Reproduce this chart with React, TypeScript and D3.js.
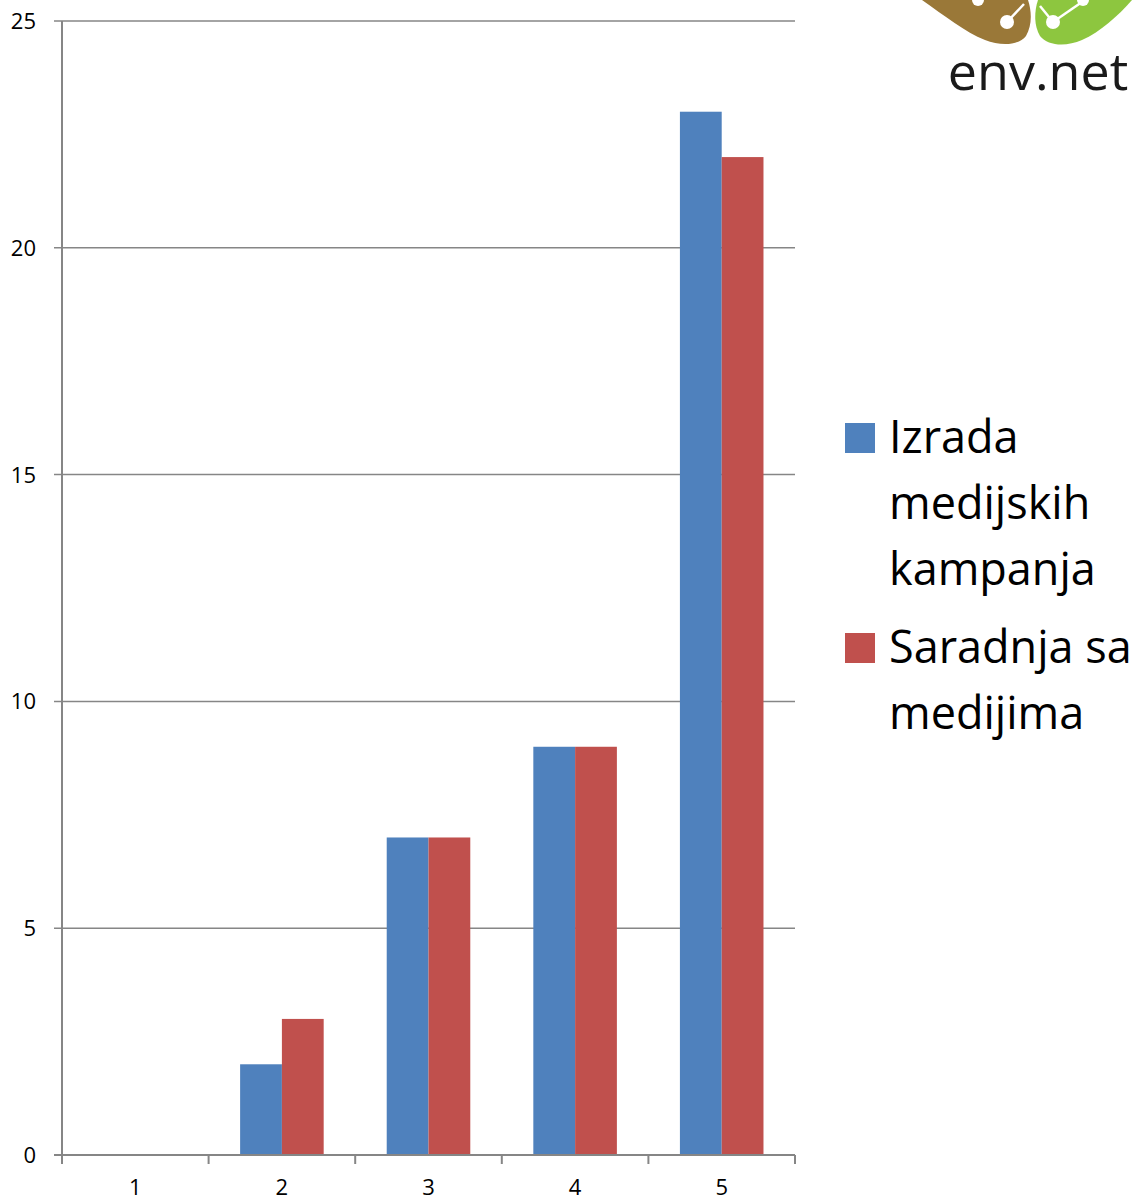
import React from 'react';
import { scaleBand, scaleLinear } from 'd3';

const categories = ['1', '2', '3', '4', '5'];
const izrada = [0, 2, 7, 9, 23];
const saradnja = [0, 3, 7, 9, 22];
const yTicks = [0, 5, 10, 15, 20, 25];
const seriesNames = ['Izrada', 'Saradnja sa'];
const legendLines = [['Izrada', 'medijskih', 'kampanja'], ['Saradnja sa', 'medijima']];
const colors = ['#4F81BD', '#C0504D'];

const left = 62;
const right = 795;
const top = 21;
const bottom = 1155;
const font = 'Open Sans, Liberation Sans, sans-serif';

const App = () => {
    const x = scaleBand().domain(categories).range([left, right]).padding(0);
    const y = scaleLinear().domain([0, 25]).range([bottom, top]);
    const bw = x.bandwidth();
    const gap = bw * 0.215;
    const inner = scaleBand().domain(['0', '1']).range([gap, bw - gap]);
    const series = [izrada, saradnja];

    return (
        <svg width={1139} height={1199} style={{ position: 'absolute', left: 0, top: 0 }}>
            <rect width={1139} height={1199} fill="#fff" />

            {yTicks.map(t => (
                <g key={t}>
                    <line x1={54} x2={right} y1={y(t)} y2={y(t)} stroke="#868686" strokeWidth={1.5} />
                    <text x={36} y={y(t)} dy="0.36em" textAnchor="end" fontSize={22} fontFamily={font} fill="#000">
                        {t}
                    </text>
                </g>
            ))}

            {series.map((vals, si) =>
                vals.map((v, i) => (
                    <rect
                        key={si + '-' + i}
                        x={(x(categories[i]) as number) + (inner(String(si)) as number)}
                        y={y(v)}
                        width={inner.bandwidth()}
                        height={bottom - y(v)}
                        fill={colors[si]}
                    />
                ))
            )}

            <line x1={left} x2={left} y1={top} y2={bottom} stroke="#868686" strokeWidth={2} />
            <line x1={54} x2={right} y1={bottom} y2={bottom} stroke="#868686" strokeWidth={2} />
            {categories.map((c, i) => (
                <line key={'t' + i} x1={left + i * bw} x2={left + i * bw} y1={bottom} y2={bottom + 9} stroke="#868686" strokeWidth={2} />
            ))}
            <line x1={right} x2={right} y1={bottom} y2={bottom + 9} stroke="#868686" strokeWidth={2} />
            {categories.map(c => (
                <text key={'l' + c} x={(x(c) as number) + bw / 2} y={1195} textAnchor="middle" fontSize={22} fontFamily={font} fill="#000">
                    {c}
                </text>
            ))}

            {legendLines.map((lines, si) => {
                const y0 = si === 0 ? 453 : 663;
                return (
                    <g key={seriesNames[si]}>
                        <rect x={845} y={y0 - 30} width={30} height={30} fill={colors[si]} />
                        {lines.map((ln, li) => (
                            <text key={ln} x={889} y={y0 + li * 66} fontSize={45} fontFamily={font} fill="#000">
                                {ln}
                            </text>
                        ))}
                    </g>
                );
            })}

            {/* logo */}
            <g>
                <path d="M922,0 L1028,0 C1032,12 1032,26 1026,36 C1018,46 1000,46 985,40 C965,32 945,16 922,0 Z" fill="#9A7838" />
                <path d="M1132,0 L1038,0 C1034,12 1034,26 1040,36 C1048,46 1066,47 1082,40 C1100,32 1118,16 1132,0 Z" fill="#8DC63F" />
                <line x1={1007} y1={22} x2={1024} y2={4} stroke="#fff" strokeWidth={2.5} />
                <line x1={1053} y1={22} x2={1040} y2={6} stroke="#fff" strokeWidth={2.5} />
                <line x1={1053} y1={22} x2={1082} y2={2} stroke="#fff" strokeWidth={2.5} />
                <circle cx={1007} cy={22} r={7} fill="#fff" />
                <circle cx={1053} cy={22} r={7} fill="#fff" />
                <circle cx={978} cy={0} r={6} fill="#fff" />
                <circle cx={1083} cy={0} r={6} fill="#fff" />
                <text x={1038} y={90} textAnchor="middle" fontSize={52} fontFamily={font} fill="#1a1a1a">
                    env.net
                </text>
            </g>
        </svg>
    );
};

export default App;
